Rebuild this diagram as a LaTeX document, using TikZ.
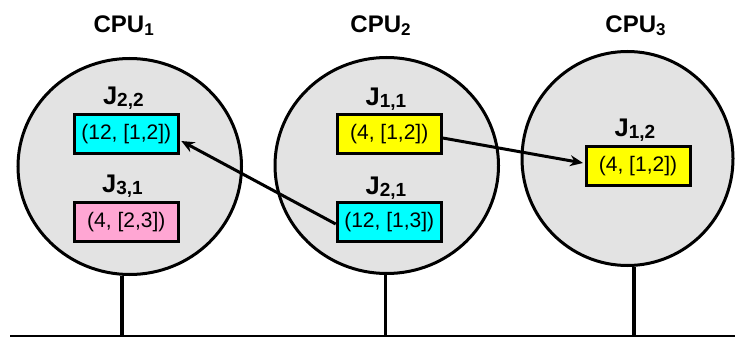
\documentclass[tikz,border=0pt]{standalone}
\usepackage{fontspec}
\setmainfont{Liberation Sans}
\usetikzlibrary{shapes.geometric,arrows.meta}
\definecolor{cpugray}{HTML}{E3E3E3}
\definecolor{jpink}{HTML}{FFA6D3}
\definecolor{jcyan}{HTML}{00FFFF}
\definecolor{jyellow}{HTML}{FFFF00}
\newcommand{\sublab}[3]{#1\raisebox{-2.5pt}{\fontsize{#3}{#3}\selectfont #2}}
\begin{document}
\begin{tikzpicture}[x=1pt,y=-1pt,
 cpu/.style={ellipse, draw, line width=3pt, fill=cpugray, inner sep=0pt},
 job/.style={draw, line width=3pt, minimum width=104pt, minimum height=39pt, inner sep=0pt, font=\fontsize{21}{21}\selectfont},
 cpulab/.style={anchor=base, font=\bfseries\fontsize{24}{24}\selectfont, inner sep=0pt},
 jlab/.style={anchor=base, font=\bfseries\fontsize{25.5}{25.5}\selectfont, inner sep=0pt},
 arr/.style={line width=3pt, -{Stealth[length=13pt,width=11pt]}},
 stem/.style={line width=3.5pt},
 bus/.style={line width=1.2pt}]
\useasboundingbox (0,0) rectangle (735,337);
% bus and stems
\coordinate (busL) at (10,336);
\coordinate (busR) at (735,336);
\coordinate (s1) at (122,336);
\coordinate (s2) at (385.7,336);
\coordinate (s3) at (634,336);
% CPUs
\node[cpu, minimum width=223.5pt, minimum height=216pt] (c1) at (129.75,166.5) {};
\node[cpu, minimum width=223.5pt, minimum height=216pt] (c2) at (386.75,165.5) {};
\node[cpu, minimum width=211pt, minimum height=214pt] (c3) at (627.5,158.5) {};
\draw[bus] (busL) -- (busR);
\draw[stem] (s1) -- (s1 |- c1.south);
\draw[stem] (s2) -- (s2 |- c2.south);
\draw[stem] (s3) -- (s3 |- c3.south);
% CPU labels
\node[cpulab] (p1) at (123.7,33) {\sublab{CPU}{1}{17}};
\node[cpulab] (p2) at (380.5,33) {\sublab{CPU}{2}{17}};
\node[cpulab] (p3) at (635.5,33) {\sublab{CPU}{3}{17}};
% job labels
\node[jlab] (l22) at (123.3,104) {\sublab{J}{2,2}{19}};
\node[jlab] (l31) at (122.5,192) {\sublab{J}{3,1}{19}};
\node[jlab] (l11) at (386,105) {\sublab{J}{1,1}{19}};
\node[jlab] (l21) at (386,194) {\sublab{J}{2,1}{19}};
\node[jlab] (l12) at (635,136) {\sublab{J}{1,2}{19}};
% job boxes
\node[job, fill=jcyan] (b22) at (126.3,134) {(12, [1,2])};
\node[job, fill=jpink] (b31) at (126.3,222) {(4, [2,3])};
\node[job, fill=jyellow] (b11) at (389.2,134) {(4, [1,2])};
\node[job, fill=jcyan] (b21) at (389.2,222) {(12, [1,3])};
\node[job, fill=jyellow] (b12) at (638,166) {(4, [1,2])};
% migrations
\draw[arr] ([yshift=-2pt]b21.west) -- ([xshift=1.5pt,yshift=-7pt]b22.east);
\draw[arr] ([yshift=-4pt]b11.east) -- ([xshift=-1.5pt,yshift=3pt]b12.west);
\end{tikzpicture}
\end{document}
